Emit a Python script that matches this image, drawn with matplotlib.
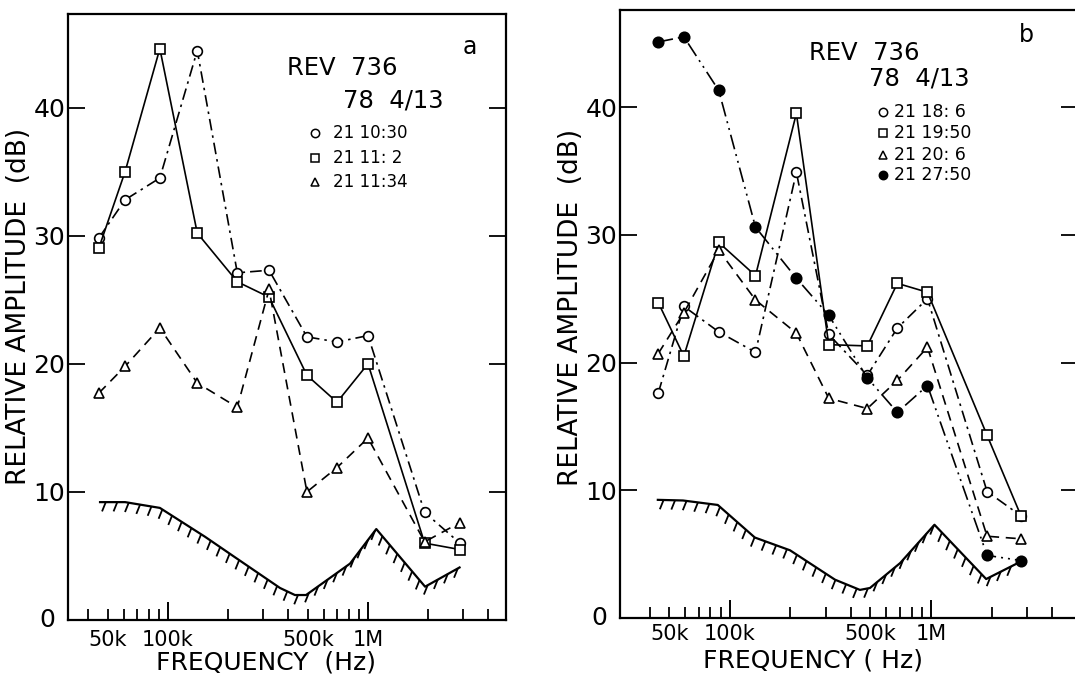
import numpy as np
import matplotlib
matplotlib.use("Agg")
import matplotlib.pyplot as plt
from matplotlib.ticker import FixedLocator, FixedFormatter

plt.rcParams["font.family"] = "DejaVu Sans"

# ---- panel a: REV 736, 78 4/13 ----
freq_a = [45e3, 61e3, 91e3, 140e3, 222e3, 320e3, 495e3, 700e3, 1.0e6, 1.92e6, 2.88e6]
a_1030 = [29.8, 32.8, 34.5, 44.45, 27.1, 27.3, 22.1, 21.7, 22.2, 8.4, 6.0]
a_1102 = [29.0, 35.0, 44.6, 30.2, 26.4, 25.2, 19.1, 17.0, 20.0, 6.0, 5.5]
a_1134 = [17.7, 19.8, 22.8, 18.5, 16.6, 25.8, 10.0, 11.9, 14.2, 6.1, 7.6]
thr_freq_a = [45.7e3, 61e3, 91e3, 153e3, 216e3, 363e3, 431e3, 490e3, 813e3, 1.1e6, 1.93e6, 2.87e6]
thr_a = [9.2, 9.2, 8.75, 6.5, 4.9, 2.5, 1.95, 1.95, 4.4, 7.1, 2.6, 4.1]

# ---- panel b ----
freq_b = [44e3, 59e3, 88e3, 134e3, 214e3, 310e3, 482e3, 680e3, 960e3, 1.9e6, 2.8e6]
b_1806 = [17.6, 24.4, 22.4, 20.8, 34.9, 22.2, 19.0, 22.7, 25.0, 9.9, 8.0]
b_1950 = [24.7, 20.5, 29.4, 26.8, 39.5, 21.4, 21.3, 26.2, 25.5, 14.3, 8.0]
b_2006 = [20.7, 23.9, 28.8, 24.9, 22.3, 17.2, 16.4, 18.6, 21.2, 6.4, 6.2]
b_2750 = [45.1, 45.5, 41.3, 30.6, 26.6, 23.7, 18.8, 16.1, 18.2, 4.9, 4.5]
thr_freq_b = [43.8e3, 58.4e3, 87e3, 133e3, 199e3, 333e3, 443e3, 497e3, 702e3, 1.04e6, 1.88e6, 2.7e6]
thr_b = [9.25, 9.2, 8.85, 6.3, 5.3, 3.0, 2.2, 2.35, 4.3, 7.3, 3.05, 4.3]

labels_a = ["21 10:30", "21 11: 2", "21 11:34"]
labels_b = ["21 18: 6", "21 19:50", "21 20: 6", "21 27:50"]

major_f = [1e5, 1e6]
minor_f = [4e4, 5e4, 6e4, 7e4, 8e4, 9e4,
           2e5, 3e5, 4e5, 5e5, 6e5, 7e5, 8e5, 9e5,
           2e6, 3e6, 4e6]
minor_lbl = ["" if f not in (5e4, 5e5) else ("50k" if f == 5e4 else "500k") for f in minor_f]
yticks = [10, 20, 30, 40]

DASHDOT = (7, 3, 1.5, 3)
DASHED = (6, 4)
DASHDOTDOT = (9, 3, 1.2, 3, 1.2, 3)
LW = 1.2


def hatch_below(ax, xs, ys, spacing=11.5, length=10, angle=-112):
    """Short slanted ticks hanging under a curve (display-pixel spacing)."""
    pts = ax.transData.transform(np.column_stack([xs, ys]))
    seg = np.diff(pts, axis=0)
    s = np.concatenate([[0], np.cumsum(np.hypot(seg[:, 0], seg[:, 1]))])
    d = np.arange(spacing * 0.5, s[-1], spacing)
    px = np.interp(d, s, pts[:, 0])
    py = np.interp(d, s, pts[:, 1])
    dx = length * np.cos(np.radians(angle))
    dy = length * np.sin(np.radians(angle))
    inv = ax.transData.inverted()
    for x0, y0 in zip(px, py):
        p = inv.transform([[x0, y0], [x0 + dx, y0 + dy]])
        ax.plot(p[:, 0], p[:, 1], color="black", lw=1.3, solid_capstyle="butt")


def setup_axes(ax, xlim, ylim, xlab_pos, ylab_pos, xlabel, xpad):
    ax.set_xscale("log")
    ax.set_xlim(*xlim)
    ax.set_ylim(*ylim)
    ax.xaxis.set_major_locator(FixedLocator(major_f))
    ax.xaxis.set_major_formatter(FixedFormatter(["100k", "1M"]))
    ax.xaxis.set_minor_locator(FixedLocator(minor_f))
    ax.xaxis.set_minor_formatter(FixedFormatter(minor_lbl))
    ax.tick_params(axis="x", which="major", direction="in", length=13, width=1.4,
                   labelsize=15, pad=xpad)
    ax.tick_params(axis="x", which="minor", direction="in", length=8, width=1.3,
                   labelsize=15, pad=xpad)
    ax.set_yticks(yticks)
    ax.tick_params(axis="y", direction="in", length=12, width=1.3, right=True,
                   labelsize=18, pad=2)
    ax.text(-0.028, 0.0, "0", transform=ax.transAxes, ha="right", va="center",
            fontsize=18)
    for sp in ax.spines.values():
        sp.set_linewidth(1.6)
    ax.set_xlabel(xlabel, fontsize=18)
    ax.xaxis.set_label_coords(*xlab_pos)
    ax.set_ylabel("RELATIVE AMPLITUDE  (dB)", fontsize=19)
    ax.yaxis.set_label_coords(*ylab_pos)


fig = plt.figure(figsize=(10.75, 6.76), dpi=100)

# ---------------- panel a ----------------
ax = fig.add_axes([0.06326, 0.08284, 0.40744, 0.89645])
setup_axes(ax, (31.6e3, 4.9e6), (0, 47.3), (0.452, -0.05), (-0.082, 0.518),
           "FREQUENCY  (Hz)", 7)

ax.plot(freq_a, a_1030, color="black", lw=LW, dashes=DASHDOT, marker="o", ms=7,
        mfc="white", mec="black", mew=1.2)
ax.plot(freq_a, a_1102, color="black", lw=LW, ls="-", marker="s", ms=7.5,
        mfc="white", mec="black", mew=1.2)
ax.plot(freq_a, a_1134, color="black", lw=LW, dashes=DASHED, marker="^", ms=7.5,
        mfc="white", mec="black", mew=1.2)
ax.plot(thr_freq_a, thr_a, color="black", lw=1.6)
hatch_below(ax, thr_freq_a, thr_a)

ax.text(0.918, 0.946, "a", transform=ax.transAxes, ha="center", va="center", fontsize=17)
ax.text(0.50, 0.911, "REV  736", transform=ax.transAxes, ha="left", va="center", fontsize=17.5)
ax.text(0.628, 0.858, "78  4/13", transform=ax.transAxes, ha="left", va="center", fontsize=17.5)
for lab, mk, yy in zip(labels_a, ["o", "s", "^"], [0.804, 0.762, 0.723]):
    ax.plot([0.564], [yy], transform=ax.transAxes, marker=mk, ms=6, mfc="white",
            mec="black", mew=1.1, ls="none", clip_on=False)
    ax.text(0.605, yy, lab, transform=ax.transAxes, ha="left", va="center", fontsize=12)

# ---------------- panel b ----------------
bx = fig.add_axes([0.57674, 0.0858, 0.42605, 0.89941])
setup_axes(bx, (28.4e3, 5.38e6), (0, 47.6), (0.421, -0.05), (-0.078, 0.511),
           "FREQUENCY ( Hz)", 4)

bx.plot(freq_b, b_1806, color="black", lw=LW, dashes=DASHDOT, marker="o", ms=7,
        mfc="white", mec="black", mew=1.2)
bx.plot(freq_b, b_1950, color="black", lw=LW, ls="-", marker="s", ms=7.5,
        mfc="white", mec="black", mew=1.2)
bx.plot(freq_b, b_2006, color="black", lw=LW, dashes=DASHED, marker="^", ms=7.5,
        mfc="white", mec="black", mew=1.2)
bx.plot(freq_b, b_2750, color="black", lw=LW, dashes=DASHDOTDOT, marker="o", ms=7.5,
        mfc="black", mec="black", mew=1.2)
bx.plot(thr_freq_b, thr_b, color="black", lw=1.6)
hatch_below(bx, thr_freq_b, thr_b)

bx.text(0.888, 0.959, "b", transform=bx.transAxes, ha="center", va="center", fontsize=17)
bx.text(0.412, 0.929, "REV  736", transform=bx.transAxes, ha="left", va="center", fontsize=17.5)
bx.text(0.544, 0.888, "78  4/13", transform=bx.transAxes, ha="left", va="center", fontsize=17.5)
for lab, mk, fc, yy in zip(labels_b, ["o", "s", "^", "o"],
                           ["white", "white", "white", "black"],
                           [0.832, 0.798, 0.761, 0.729]):
    bx.plot([0.575], [yy], transform=bx.transAxes, marker=mk, ms=6, mfc=fc,
            mec="black", mew=1.1, ls="none", clip_on=False)
    bx.text(0.599, yy, lab, transform=bx.transAxes, ha="left", va="center", fontsize=12.5)

fig.savefig("out.png", dpi=100)
